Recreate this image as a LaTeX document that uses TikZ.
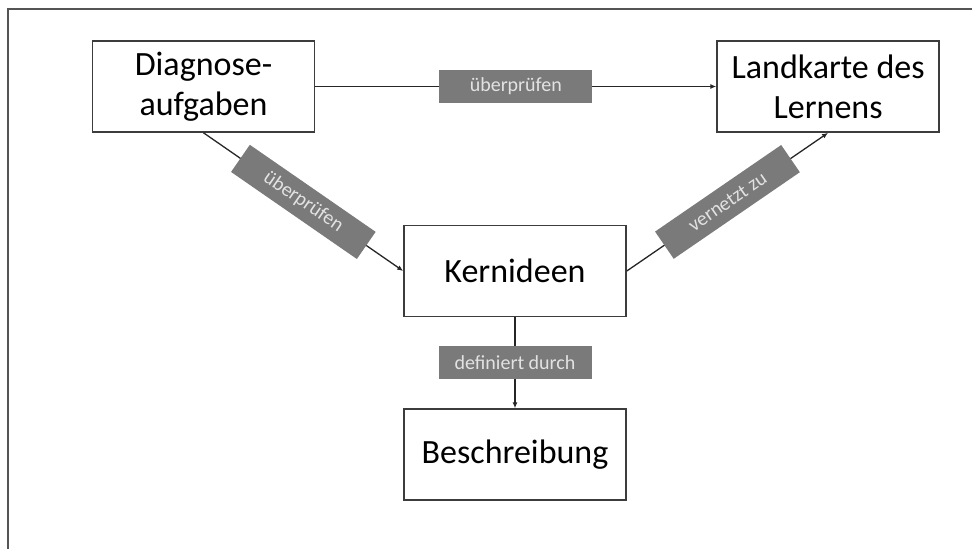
\documentclass[tikz,border=0pt]{standalone}
\usepackage{fontspec}
\setmainfont{Carlito}
\usepackage{xcolor}
\usepackage{tikz}
\usetikzlibrary{arrows.meta,positioning}
\definecolor{ldlframegray}{HTML}{555555}
\definecolor{ldlborder}{HTML}{3C3C3C}
\definecolor{ldltaggray}{HTML}{7A7A7A}
\definecolor{ldltagtext}{HTML}{E2E2E2}
\tikzset{%
  ldlbox/.style={%
    draw=ldlborder,
    line width=1.6pt,
    fill=white,
    minimum width=222pt,
    minimum height=91pt,
    inner sep=0pt,
    align=center,
    font=\fontsize{34}{40}\selectfont
  },
  ldltag/.style={%
    fill=ldltaggray,
    minimum width=153pt,
    minimum height=33pt,
    inner sep=0pt,
    text=ldltagtext,
    font=\fontsize{20}{24}\selectfont
  },
  ldlarrow/.style={-{Latex[length=6pt,width=5pt]},line width=1.3pt,draw=black!85},
  ldlframe/.style={draw=ldlframegray,line width=2pt}
}
\begin{document}
\begin{tikzpicture}[x=1pt,y=-1pt]
    \useasboundingbox (0,0) rectangle (972,549);
    \draw[ldlframe] (972,9) -| (8,549);

    \node[ldlbox] (diag) at (203.5,86.5) {Diagnose-\\aufgaben};
    \node[ldlbox,right=401pt of diag] (land) {Landkarte des\\Lernens};
    \node[ldlbox] (kern) at (515,271) {Kernideen};
    \node[ldlbox,below=91pt of kern] (besch) {Beschreibung};

    \draw[ldlarrow] (diag) -- node[ldltag]{überprüfen} (land);
    \draw[ldlarrow] (diag.south) -- node[ldltag,sloped]{überprüfen} (kern.west);
    \draw[ldlarrow] (kern.east) -- node[ldltag,sloped]{vernetzt zu} (land.south);
    \draw[ldlarrow] (kern) -- node[ldltag]{definiert durch} (besch);
  \end{tikzpicture}
\end{document}
